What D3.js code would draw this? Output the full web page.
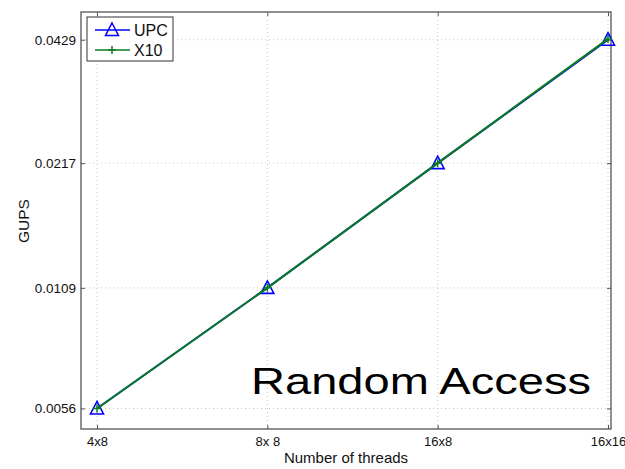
<!DOCTYPE html>
<html>
<head>
<meta charset="utf-8">
<script src="https://cdn.jsdelivr.net/npm/d3@7"></script>
<style>
  body { margin: 0; background: #fff; }
  svg { font-family: "Liberation Sans", Arial, Helvetica, sans-serif; }
</style>
</head>
<body>
<div id="chart"></div>
<script>
// Data
const categories = ["4x8", "8x 8", "16x8", "16x16"];
const upcValues = [0.0056, 0.0109, 0.0217, 0.0429];
const x10Values = [0.0056, 0.0109, 0.0217, 0.0431];
const yTicks = [0.0056, 0.0109, 0.0217, 0.0429];

const width = 625, height = 469;
// plot frame
const plotLeft = 81, plotRight = 611, plotTop = 12, plotBottom = 429;

const svg = d3.select("#chart")
  .append("svg")
  .attr("width", width)
  .attr("height", height);

// x: category index, first/last categories inset from the frame
const x = d3.scaleLinear()
  .domain([0, categories.length - 1])
  .range([97, 608]);

// y: log scale
const y = d3.scaleLog()
  .domain([0.005, 0.05])
  .range([plotBottom, plotTop]);

// Gridlines (dotted)
const grid = svg.append("g").attr("stroke", "#c4c4c4").attr("stroke-dasharray", "1,3");
grid.selectAll(".gx")
  .data(categories)
  .enter()
  .append("line")
  .attr("x1", (d, i) => x(i)).attr("x2", (d, i) => x(i))
  .attr("y1", plotTop).attr("y2", plotBottom);
grid.selectAll(".gy")
  .data(yTicks)
  .enter()
  .append("line")
  .attr("x1", plotLeft).attr("x2", plotRight)
  .attr("y1", d => y(d)).attr("y2", d => y(d));

// Axes with inward ticks
const xAxis = d3.axisBottom(x)
  .tickValues(d3.range(categories.length))
  .tickFormat(i => categories[i])
  .tickSize(-4)
  .tickPadding(8);

svg.append("g")
  .attr("transform", `translate(0,${plotBottom})`)
  .call(xAxis)
  .call(g => g.select(".domain").remove())
  .call(g => g.selectAll("text").style("font-size", "13px").attr("fill", "#111"));

svg.append("g")
  .attr("transform", `translate(0,${plotTop})`)
  .call(d3.axisTop(x).tickValues(d3.range(categories.length)).tickFormat("").tickSize(-4))
  .call(g => g.select(".domain").remove());

svg.append("g")
  .attr("transform", `translate(${plotLeft},0)`)
  .call(d3.axisLeft(y).tickValues(yTicks).tickFormat(d3.format(".4f")).tickSize(-4).tickPadding(5))
  .call(g => g.select(".domain").remove())
  .call(g => g.selectAll("text").style("font-size", "13.5px").attr("fill", "#111"));

svg.append("g")
  .attr("transform", `translate(${plotRight},0)`)
  .call(d3.axisRight(y).tickValues(yTicks).tickFormat("").tickSize(-4))
  .call(g => g.select(".domain").remove());

svg.selectAll(".tick line").attr("stroke", "#555");

// Frame
svg.append("rect")
  .attr("x", plotLeft).attr("y", plotTop)
  .attr("width", plotRight - plotLeft).attr("height", plotBottom - plotTop)
  .attr("fill", "none")
  .attr("stroke", "#555")
  .attr("stroke-width", 1.3);

// Lines
const line = d3.line()
  .x((d, i) => x(i))
  .y(d => y(d));

const triangle = "M0,-7L6.5,5.5L-6.5,5.5Z";
const plus = "M-4,0H4M0,-4V4";

svg.append("path")
  .datum(upcValues)
  .attr("d", line)
  .attr("fill", "none")
  .attr("stroke", "#0000ff")
  .attr("stroke-width", 2);

svg.selectAll(".upc-marker")
  .data(upcValues)
  .enter()
  .append("path")
  .attr("transform", (d, i) => `translate(${x(i)},${y(d)})`)
  .attr("d", triangle)
  .attr("fill", "none")
  .attr("stroke", "#0000ff")
  .attr("stroke-width", 1.6);

svg.append("path")
  .datum(x10Values)
  .attr("d", line)
  .attr("fill", "none")
  .attr("stroke", "#0a7d1e")
  .attr("stroke-width", 2);

svg.selectAll(".x10-marker")
  .data(x10Values)
  .enter()
  .append("path")
  .attr("transform", (d, i) => `translate(${x(i)},${y(d)})`)
  .attr("d", plus)
  .attr("fill", "none")
  .attr("stroke", "#0a7d1e")
  .attr("stroke-width", 1.5);

// Axis labels
svg.append("text")
  .attr("x", 346)
  .attr("y", 463)
  .attr("text-anchor", "middle")
  .style("font-size", "15px")
  .attr("fill", "#111")
  .text("Number of threads");

svg.append("text")
  .attr("transform", "translate(29,221) rotate(-90)")
  .attr("text-anchor", "middle")
  .style("font-size", "15.5px")
  .attr("fill", "#111")
  .text("GUPS");

// Legend
const legend = svg.append("g");
legend.append("rect")
  .attr("x", 87).attr("y", 17)
  .attr("width", 86).attr("height", 44)
  .attr("fill", "#fff")
  .attr("stroke", "#333")
  .attr("stroke-width", 1);

const legendItems = [
  {name: "UPC", color: "#0000ff", marker: triangle, y: 30},
  {name: "X10", color: "#0a7d1e", marker: plus, y: 50}
];
legendItems.forEach(item => {
  legend.append("line")
    .attr("x1", 95).attr("x2", 130)
    .attr("y1", item.y).attr("y2", item.y)
    .attr("stroke", item.color)
    .attr("stroke-width", 1.6);
  legend.append("path")
    .attr("transform", `translate(112,${item.y})`)
    .attr("d", item.marker)
    .attr("fill", "none")
    .attr("stroke", item.color)
    .attr("stroke-width", 1.5);
  legend.append("text")
    .attr("x", 134)
    .attr("y", item.y + 6)
    .style("font-size", "16px")
    .attr("fill", "#111")
    .text(item.name);
});

// Overlay title
svg.append("text")
  .attr("x", 251)
  .attr("y", 394)
  .attr("textLength", 340)
  .attr("lengthAdjust", "spacingAndGlyphs")
  .style("font-size", "37px")
  .attr("fill", "#000")
  .text("Random Access");
</script>
</body>
</html>
